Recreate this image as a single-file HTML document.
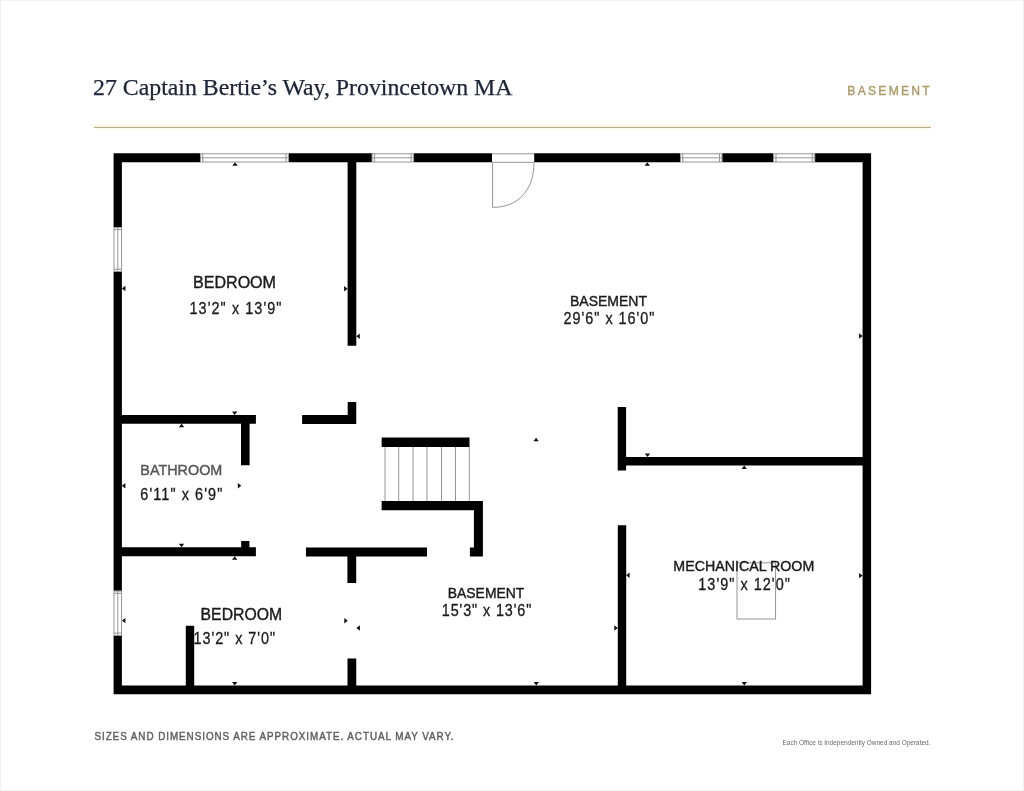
<!DOCTYPE html>
<html><head><meta charset="utf-8">
<style>
html,body{margin:0;padding:0;background:#fff;width:1024px;height:791px;overflow:hidden}
svg{position:absolute;left:0;top:0;display:block;will-change:transform}
</style></head>
<body>
<svg width="1024" height="791" viewBox="0 0 1024 791">
<rect x="0" y="0" width="1024" height="791" fill="#fff"/>
<rect x="0.5" y="0.5" width="1023" height="790" fill="none" stroke="#f1f1f1" stroke-width="1"/>
<text x="93" y="95" font-family="Liberation Serif" font-size="23.5" fill="#1d2438" stroke="#1d2438" stroke-width="0.25" textLength="419.5" lengthAdjust="spacingAndGlyphs">27 Captain Bertie’s Way, Provincetown MA</text>
<text transform="scale(0.9,1)" x="941.5" y="95.3" font-family="Liberation Sans" font-size="13.5" fill="#ab9a66" stroke="#ab9a66" stroke-width="0.4" textLength="91.5" lengthAdjust="spacing">BASEMENT</text>
<rect x="94" y="123.5" width="837" height="6.5" fill="#fdfbf1"/>
<rect x="94" y="126.9" width="837" height="1" fill="#b4a87f"/>
<path fill="#000" d="M113.6 153.3H200V162.3H113.6Z M288.9 153.3H371.8V162.3H288.9Z M414 153.3H492V162.3H414Z M534.2 153.3H680V162.3H534.2Z M722.3 153.3H773.2V162.3H722.3Z M815.1 153.3H871.1V162.3H815.1Z M113.6 153.3H121.9V227H113.6Z M113.6 271.9H121.9V590.7H113.6Z M113.6 635.8H121.9V694.2H113.6Z M862.6 153.3H871.1V694.2H862.6Z M113.6 685.5H871.1V694.2H113.6Z M347.6 160H356.3V345.7H347.6Z M120 415H255.9V423.8H120Z M241 420H249.6V465.3H241Z M120 547.3H255.9V556.3H120Z M241.2 541.1H249.4V549H241.2Z M302.1 415H356.25V424H302.1Z M347.7 402.1H356.25V424H347.7Z M381.65 437.6H469.5V446.9H381.65Z M381.65 500.9H482.9V510.3H381.65Z M473.9 500.9H482.9V556.4H473.9Z M469.9 547.6H482.9V556.4H469.9Z M306 547.6H427V556.4H306Z M347.4 550H356.2V583H347.4Z M347.5 658.4H356.25V688H347.5Z M185.8 625.7H194.2V688H185.8Z M617.7 407.1H626.1V470.6H617.7Z M620 456.9H865V465.6H620Z M617.8 525.3H626.2V688H617.8Z"/>
<g fill="#fff" stroke="#8a8a8a" stroke-width="0.9">
<rect x="200.4" y="153.8" width="88" height="8.2"/>
<path d="M200.4 157.8H288.4M202.8 153.8V162M286 153.8V162"/>
<rect x="372.2" y="153.8" width="41.4" height="8.2"/>
<path d="M372.2 157.8H413.6M374.6 153.8V162M411.2 153.8V162"/>
<rect x="680.4" y="153.8" width="41.5" height="8.2"/>
<path d="M680.4 157.8H721.9M682.8 153.8V162M719.5 153.8V162"/>
<rect x="773.6" y="153.8" width="41.1" height="8.2"/>
<path d="M773.6 157.8H814.7M776 153.8V162M812.3 153.8V162"/>
<rect x="114" y="227.4" width="7.6" height="44.1"/>
<path d="M117.8 227.4V271.5M114 229.6H121.6M114 269.2H121.6"/>
<rect x="114" y="591.1" width="7.6" height="44.3"/>
<path d="M117.8 591.1V635.4M114 593.3H121.6M114 633.1H121.6"/>
</g>
<g fill="none" stroke="#8a8a8a" stroke-width="0.9">
<path d="M492.3 153.8H534M492.3 162.3H534M492.6 162.3V207.4C518.3 207.4 534 190.2 534 162.3"/>
<rect x="737" y="562.8" width="38.6" height="56.2"/>
<path d="M385 446.9V500.9 M398.7 446.9V500.9 M413 446.9V500.9 M427 446.9V500.9 M441.5 446.9V500.9 M455.5 446.9V500.9 M469.3 446.9V500.9"/>
</g>
<path fill="#111" d="M235 162.3L232.3 165.8H237.7Z M647.3 162.3L644.6 165.8H650Z M181.5 423.8L178.8 427.3H184.2Z M536.1 437.8L533.4 441.3H538.8Z M744.2 465.6L741.5 469.1H746.9Z M234.7 556.3L232 559.8H237.4Z M234.7 415L232 411.5H237.4Z M647.5 456.9L644.8 453.4H650.2Z M181.5 547.3L178.8 543.8H184.2Z M536.3 685.5L533.6 682H539Z M744.3 685.5L741.6 682H747Z M234.7 685.5L232 682H237.4Z M121.9 288.5L125.4 285.8V291.2Z M356.3 336.3L359.8 333.6V339Z M121.9 485.7L125.4 483V488.4Z M626.1 575.2L629.6 572.5V577.9Z M121.9 620.6L125.4 617.9V623.3Z M356.4 628L359.9 625.3V630.7Z M347.6 288.7L344.1 286V291.4Z M862.6 336L859.1 333.3V338.7Z M241.3 485.7L237.8 483V488.4Z M862.6 575.6L859.1 572.9V578.3Z M617.8 628L614.3 625.3V630.7Z M347.8 620.8L344.3 618.1V623.5Z"/>
<g font-family="Liberation Sans" stroke-width="0.4">
<text x="193" y="288" font-size="17" fill="#1a1a1a" stroke="#1a1a1a" textLength="83" lengthAdjust="spacingAndGlyphs">BEDROOM</text>
<text transform="translate(189.5,313.5) scale(0.9,1)" x="0" y="0" font-size="16" fill="#1a1a1a" stroke="#1a1a1a" stroke-width="0.3" textLength="102.22" lengthAdjust="spacing">13'2&quot; x 13'9&quot;</text>
<text x="570" y="306" font-size="15" fill="#1a1a1a" stroke="#1a1a1a" textLength="77" lengthAdjust="spacingAndGlyphs">BASEMENT</text>
<text transform="translate(563.5,323.8) scale(0.9,1)" x="0" y="0" font-size="16" fill="#1a1a1a" stroke="#1a1a1a" stroke-width="0.3" textLength="101.11" lengthAdjust="spacing">29'6&quot; x 16'0&quot;</text>
<text x="140.3" y="475.3" font-size="15" fill="#555" stroke="#555" textLength="82" lengthAdjust="spacingAndGlyphs">BATHROOM</text>
<text transform="translate(140.3,499.7) scale(0.9,1)" x="0" y="0" font-size="16" fill="#1a1a1a" stroke="#1a1a1a" stroke-width="0.3" textLength="91.11" lengthAdjust="spacing">6'11&quot; x 6'9&quot;</text>
<text x="200.6" y="619.7" font-size="17" fill="#1a1a1a" stroke="#1a1a1a" textLength="81.5" lengthAdjust="spacingAndGlyphs">BEDROOM</text>
<text transform="translate(193.5,644) scale(0.9,1)" x="0" y="0" font-size="16" fill="#1a1a1a" stroke="#1a1a1a" stroke-width="0.3" textLength="90.56" lengthAdjust="spacing">13'2&quot; x 7'0&quot;</text>
<text x="447.8" y="597.6" font-size="15" fill="#1a1a1a" stroke="#1a1a1a" textLength="76.5" lengthAdjust="spacingAndGlyphs">BASEMENT</text>
<text transform="translate(441.8,616.1) scale(0.9,1)" x="0" y="0" font-size="16" fill="#1a1a1a" stroke="#1a1a1a" stroke-width="0.3" textLength="99.44" lengthAdjust="spacing">15'3&quot; x 13'6&quot;</text>
<text x="673.3" y="571.2" font-size="15" fill="#1a1a1a" stroke="#1a1a1a" textLength="141" lengthAdjust="spacingAndGlyphs">MECHANICAL ROOM</text>
<text transform="translate(698.3,590.4) scale(0.9,1)" x="0" y="0" font-size="16" fill="#1a1a1a" stroke="#1a1a1a" stroke-width="0.3" textLength="101.67" lengthAdjust="spacing">13'9&quot; x 12'0&quot;</text>
</g>
<text transform="scale(0.88,1)" x="107.3" y="739.6" font-family="Liberation Sans" font-size="11.2" fill="#5f5f5f" stroke="#5f5f5f" stroke-width="0.45" textLength="408" lengthAdjust="spacing">SIZES AND DIMENSIONS ARE APPROXIMATE. ACTUAL MAY VARY.</text>
<text x="782.5" y="744.6" font-family="Liberation Sans" font-size="7" fill="#6a6a6a" textLength="148" lengthAdjust="spacingAndGlyphs">Each Office is Independently Owned and Operated.</text>
</svg>
</body></html>
